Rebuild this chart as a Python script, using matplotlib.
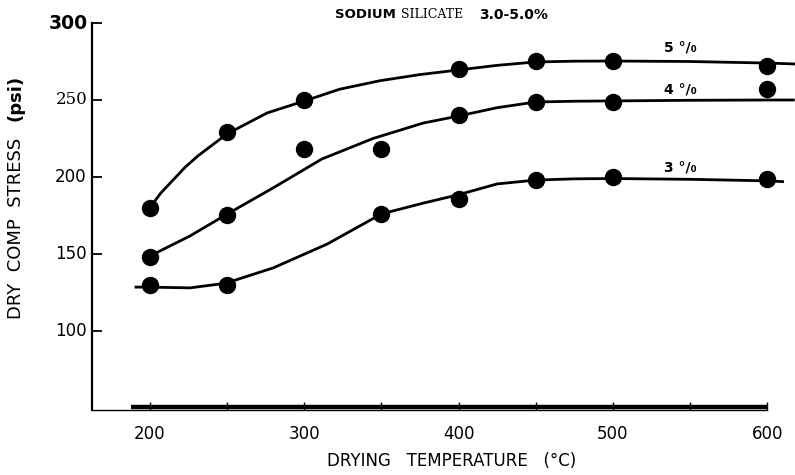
import numpy as np
import matplotlib
matplotlib.use('Agg')
import matplotlib.pyplot as plt

# measured points (drying temperature in degC, dry comp stress in psi)
temp_5 = [200, 250, 300, 400, 450, 500, 600]
stress_5 = [180, 229, 250, 270, 275, 275, 272]
temp_4 = [200, 250, 300, 350, 400, 450, 500, 600]
stress_4 = [148, 175, 218, 218, 240, 249, 249, 257]
temp_3 = [200, 250, 350, 400, 450, 500, 600]
stress_3 = [130, 130, 176, 186, 198, 200, 199]

# hand drawn fit curves
fit_t5 = [200, 207, 215, 223, 231, 250, 276, 299, 323, 349, 375, 400, 425,
          450, 475, 500, 550, 600, 618]
fit_s5 = [180, 189.5, 198, 206.5, 213.6, 228, 241.6, 249, 257, 262.5,
          266.5, 269.5, 272.5, 274.7, 275.2, 275.3, 275, 274, 273.4]
fit_t4 = [200, 226, 249, 280, 311.5, 344.6, 377, 400, 425, 450, 475, 500,
          550, 600, 617]
fit_s4 = [148.7, 161.7, 175.3, 193, 211.7, 225, 235, 239.6, 245, 248.7,
          249.2, 249.4, 249.8, 250, 250]
fit_t3 = [191, 199, 226, 249, 280, 315, 350, 377, 400, 425, 450, 475, 500,
          550, 600, 610]
fit_s3 = [128.5, 128.5, 128, 131, 141, 156.5, 176, 183, 188.5, 195.5, 198,
          198.8, 199, 198.5, 197.5, 197]

curve_labels = ['5 °/₀', '4 °/₀', '3 °/₀']
label_pos = [(533, 284), (533, 256.5), (533, 206)]

yticks = [100, 150, 200, 250, 300]
xticks = [200, 300, 400, 500, 600]

fig = plt.figure(figsize=(7.95, 4.75), dpi=100)
ax = fig.add_axes([92 / 795, 65 / 475, 706 / 795, 387 / 475])

ax.set_xlim(162.5, 620)
ax.set_ylim(48.7, 300)

lw = 2.0
for ft, fs in [(fit_t5, fit_s5), (fit_t4, fit_s4), (fit_t3, fit_s3)]:
    ax.plot(ft, fs, color='k', lw=lw, clip_on=False, solid_joinstyle='round')
for t, s in [(temp_5, stress_5), (temp_4, stress_4), (temp_3, stress_3)]:
    ax.plot(t, s, 'o', color='k', ms=11.5, clip_on=False)

for lab, (x, y) in zip(curve_labels, label_pos):
    ax.text(x, y, lab, fontsize=10, fontweight='bold', ha='left', va='center')

# axes
for sp in ['top', 'right']:
    ax.spines[sp].set_visible(False)
ax.spines['left'].set_linewidth(1.6)
ax.spines['bottom'].set_linewidth(1.0)
ax.spines['bottom'].set_bounds(162.5, 600)
ax.hlines(50.6, 188, 600, color='k', lw=3.2)

ax.set_yticks(yticks)
ax.set_yticklabels([])
ax.tick_params(axis='y', direction='in', length=7, width=1.3)
ax.set_xticks(list(range(200, 601, 50)))
ax.set_xticklabels([])
ax.tick_params(axis='x', direction='in', length=6, width=1.0)

for v in yticks:
    if v == 300:
        ax.text(-0.006, v, '300', transform=ax.get_yaxis_transform(),
                fontsize=13.5, fontweight='bold', ha='right', va='center')
    elif v == 250:
        ax.text(-0.006, v, '250', transform=ax.get_yaxis_transform(),
                fontsize=12, family='DejaVu Serif', ha='right', va='center')
    else:
        ax.text(-0.008, v, str(v), transform=ax.get_yaxis_transform(),
                fontsize=12, ha='right', va='center')
for v in xticks:
    ax.text(v, -0.04, str(v), transform=ax.get_xaxis_transform(),
            fontsize=12, ha='center', va='top')

fig.text(16 / 795, 1 - 228 / 475, 'DRY  COMP  STRESS', rotation=90,
         fontsize=13, ha='center', va='center')
fig.text(16 / 795, 1 - 98 / 475, '(psi)', rotation=90,
         fontsize=13, fontweight='bold', ha='center', va='center')
fig.text(452 / 795, 1 - 461 / 475, 'DRYING   TEMPERATURE   (°C)',
         fontsize=12, ha='center', va='center')

# title in three pieces, as in the original print
fig.text(335 / 795, 1 - 15 / 475, 'SODIUM', fontsize=9.5, fontweight='bold',
         ha='left', va='center')
fig.text(401 / 795, 1 - 15 / 475, 'SILICATE', fontsize=9,
         family='DejaVu Serif', ha='left', va='center')
fig.text(479 / 795, 1 - 15 / 475, '3.0-5.0%', fontsize=10, fontweight='bold',
         ha='left', va='center')

fig.savefig('out.png', dpi=100)
